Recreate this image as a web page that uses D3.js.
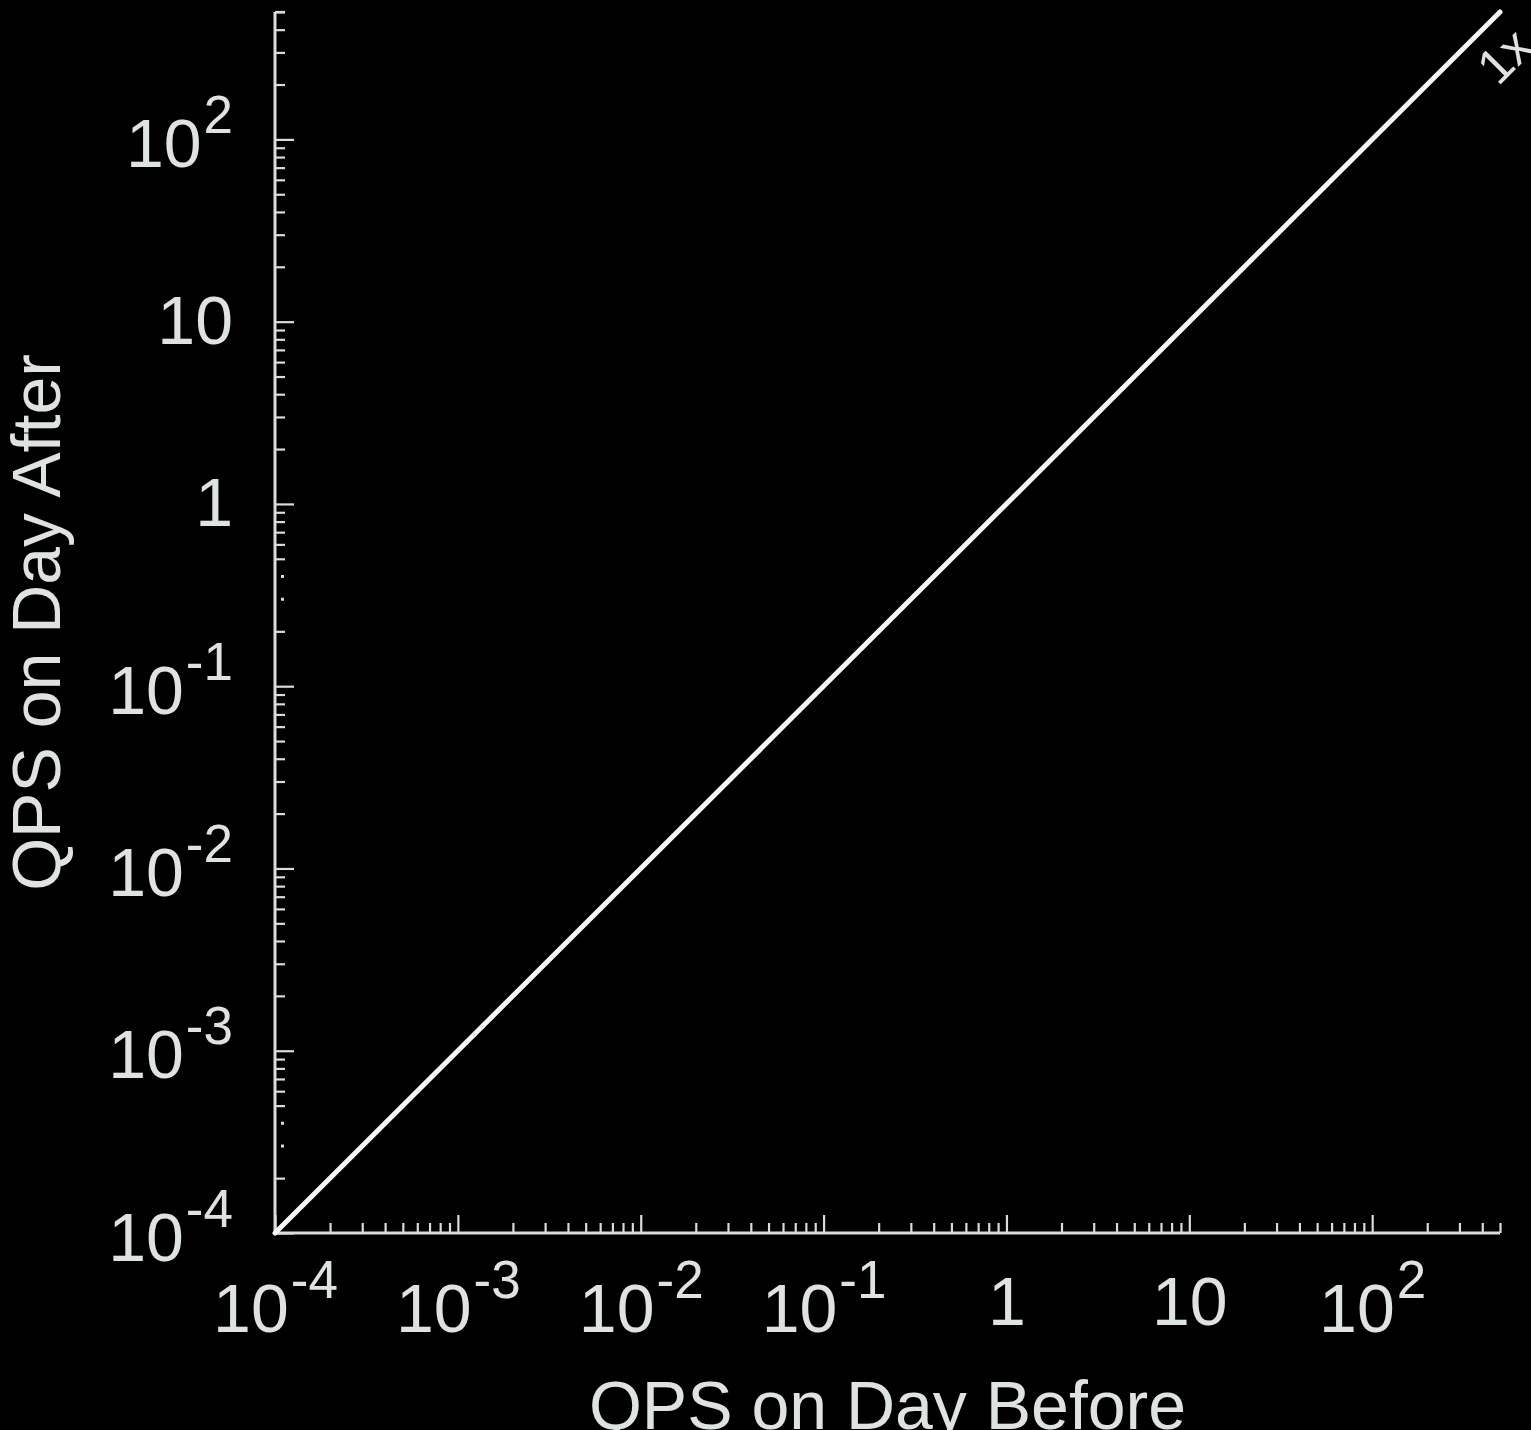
<!DOCTYPE html>
<html>
<head>
<meta charset="utf-8">
<script src="https://cdn.jsdelivr.net/npm/d3@7"></script>
<style>
  html, body { margin: 0; padding: 0; background: #000; }
  svg { display: block; }
  text { font-family: "Liberation Sans", Arial, Helvetica, sans-serif; fill: #dfe2e2; }
</style>
</head>
<body>
<svg id="chart" width="1531" height="1430"></svg>
<script>
// ---- data ----
const domainMin = 1e-4;
const domainMax = 500;
const majorExponents = [-4, -3, -2, -1, 0, 1, 2];
const majorLabels = [
  {base: "10", sup: "-4"},
  {base: "10", sup: "-3"},
  {base: "10", sup: "-2"},
  {base: "10", sup: "-1"},
  {base: "1", sup: ""},
  {base: "10", sup: ""},
  {base: "10", sup: "2"}
];
const minorMultipliers = [2, 3, 4, 5, 6, 7, 8, 9];
const faintMinorY = [3e-4, 4e-4, 0.3, 0.4];   // y-axis minor ticks that render only as dots
const identityLine = [domainMin, domainMax];   // the 1x reference line
const identityLabel = "1x";
const xTitle = "QPS on Day Before";
const yTitle = "QPS on Day After";

// ---- layout ----
const svg = d3.select("#chart");
const pLeft = 275, pRight = 1500, pTop = 12, pBottom = 1233;

const x = d3.scaleLog().domain([domainMin, domainMax]).range([pLeft, pRight]);
const y = d3.scaleLog().domain([domainMin, domainMax]).range([pBottom, pTop]);

const majors = majorExponents.map(e => Math.pow(10, e));
const minors = [];
majorExponents.forEach(e => minorMultipliers.forEach(m => {
  const v = m * Math.pow(10, e);
  if (v <= domainMax * 1.0001) minors.push(v);
}));
const yMinorsFull = minors.filter(v => !faintMinorY.some(f => Math.abs(f - v) / f < 1e-6));

const axisColor = "#d9dcdc";

// X axis: minor ticks
svg.append("g").attr("transform", `translate(0,${pBottom})`)
  .call(d3.axisBottom(x).tickValues(minors).tickSizeInner(-10).tickSizeOuter(0).tickFormat(""))
  .call(g => g.select(".domain").remove())
  .call(g => g.selectAll(".tick line").attr("stroke", axisColor).attr("stroke-width", 2.2));

// X axis: major ticks + labels
const gx = svg.append("g").attr("transform", `translate(0,${pBottom})`)
  .call(d3.axisBottom(x).tickValues(majors).tickSizeInner(-18).tickSizeOuter(0).tickFormat(""));
gx.select(".domain").attr("stroke", axisColor).attr("stroke-width", 3)
  .attr("d", `M${pLeft},0H${pRight}`);
gx.selectAll(".tick line").attr("stroke", axisColor).attr("stroke-width", 2.2);
gx.selectAll(".tick text").remove();
gx.selectAll(".tick").each(function(d, i) {
  const lab = majorLabels[i];
  const t = d3.select(this).append("text")
    .attr("text-anchor", "middle")
    .attr("y", lab.sup ? 99 : 92)
    .attr("font-size", 68);
  t.append("tspan").text(lab.base);
  if (lab.sup) t.append("tspan").attr("font-size", 53).attr("dy", -34).attr("dx", 2).text(lab.sup);
});

// Y axis: minor ticks
svg.append("g").attr("transform", `translate(${pLeft},0)`)
  .call(d3.axisLeft(y).tickValues(yMinorsFull).tickSizeInner(-10).tickSizeOuter(0).tickFormat(""))
  .call(g => g.select(".domain").remove())
  .call(g => g.selectAll(".tick line").attr("stroke", axisColor).attr("stroke-width", 2.2));

// Y axis: faint minor ticks (dots)
svg.append("g").selectAll("line").data(faintMinorY).join("line")
  .attr("x1", pLeft + 6).attr("x2", pLeft + 9)
  .attr("y1", d => y(d)).attr("y2", d => y(d))
  .attr("stroke", axisColor).attr("stroke-width", 3);

// Y axis: major ticks + labels
const gy = svg.append("g").attr("transform", `translate(${pLeft},0)`)
  .call(d3.axisLeft(y).tickValues(majors).tickSizeInner(-19).tickSizeOuter(0).tickFormat(""));
gy.select(".domain").attr("stroke", axisColor).attr("stroke-width", 3)
  .attr("d", `M0,${pTop}V${pBottom}`);
gy.selectAll(".tick line").attr("stroke", axisColor).attr("stroke-width", 2.2);
gy.selectAll(".tick text").remove();
gy.selectAll(".tick").each(function(d, i) {
  const lab = majorLabels[i];
  const t = d3.select(this).append("text")
    .attr("text-anchor", "end")
    .attr("x", -42)
    .attr("y", lab.sup ? 27 : 22)
    .attr("font-size", 68);
  t.append("tspan").text(lab.base);
  if (lab.sup) t.append("tspan").attr("font-size", 53).attr("dy", -34).attr("dx", 2).text(lab.sup);
});

// Top end cap of the y axis
svg.append("line")
  .attr("x1", pLeft).attr("x2", pLeft + 10)
  .attr("y1", y(domainMax)).attr("y2", y(domainMax))
  .attr("stroke", axisColor).attr("stroke-width", 2.2);

// Identity (1x) line
svg.append("path")
  .datum(identityLine)
  .attr("fill", "none")
  .attr("stroke", "#f6f6f6")
  .attr("stroke-width", 5)
  .attr("stroke-linecap", "round")
  .attr("d", d3.line().x(d => x(d)).y(d => y(d)));

// 1x label
const lx = x(domainMax), ly = y(domainMax);
svg.append("text")
  .attr("transform", `translate(${lx - 2},${ly + 75}) rotate(-45)`)
  .attr("font-size", 50)
  .text(identityLabel);

// Axis titles
svg.append("text")
  .attr("x", (pLeft + pRight) / 2).attr("y", 1429)
  .attr("text-anchor", "middle")
  .attr("font-size", 68)
  .text(xTitle);

svg.append("text")
  .attr("transform", `translate(60,${(pTop + pBottom) / 2}) rotate(-90)`)
  .attr("text-anchor", "middle")
  .attr("font-size", 68)
  .text(yTitle);
</script>
</body>
</html>
